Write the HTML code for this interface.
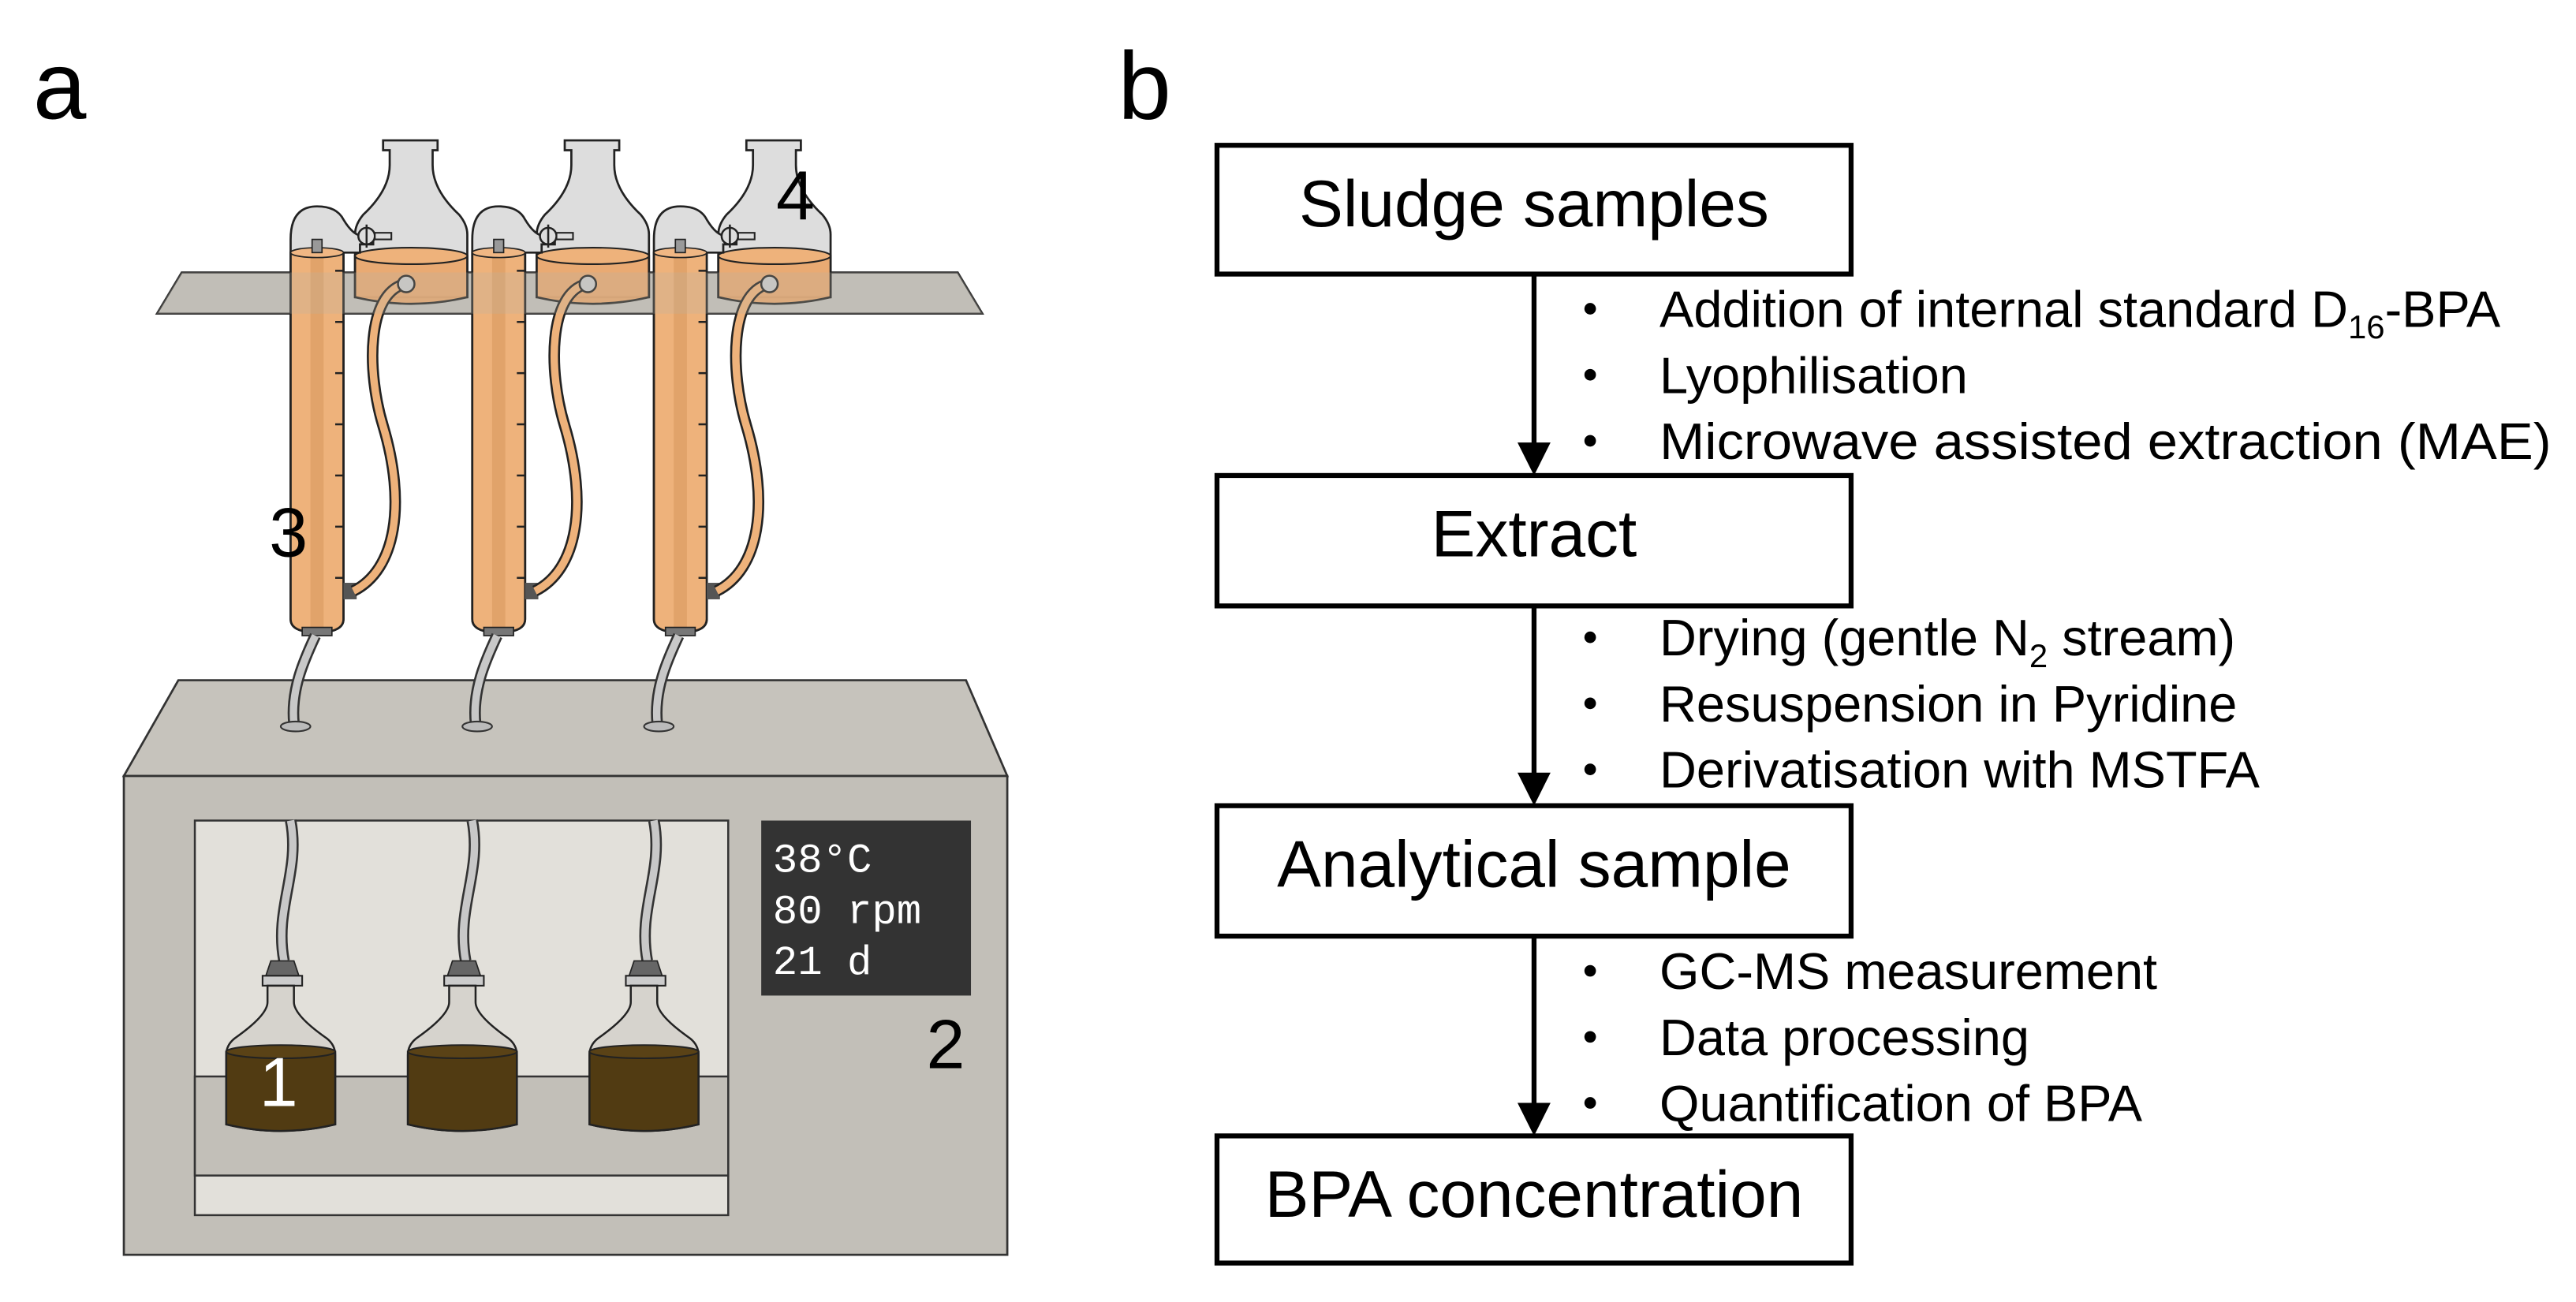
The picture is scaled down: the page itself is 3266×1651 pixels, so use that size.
<!DOCTYPE html>
<html><head><meta charset="utf-8"><style>html,body{margin:0;padding:0;background:#fff}svg{display:block}</style></head>
<body>
<svg xmlns="http://www.w3.org/2000/svg" width="3266" height="1651" viewBox="0 0 1560 788.6" font-family="Liberation Sans, Arial, sans-serif">
<defs>
<g id="col">
  <path d="M232,85 h33 v6 h-3 v9 q0,15 16,30 q5,6 5,12 v38 h-68 v-38 q0,-6 5,-12 q16,-15 16,-30 v-9 h-4 z" fill="#dddddd" stroke="#222" stroke-width="1.3"/>
  <path d="M215,155 h68 v25 q-34,8 -68,0 z" fill="#eaa86e" stroke="#222" stroke-width="1.3" opacity="0.95"/>
  <ellipse cx="249" cy="155" rx="34" ry="5" fill="#eeb27b" stroke="#222" stroke-width="1"/>
  <path d="M176,375 v-230 q0,-20 16,-20 q12,0 16,8 q6,10 12,10 h6 v5 h-8 v5 h-10 v222 q0,8 -16,8 q-16,0 -16,-8 z" fill="#dddddd" stroke="#222" stroke-width="1.3"/>
  <path d="M176,153 h32 v222 q0,8 -16,8 q-16,0 -16,-8 z" fill="#eeb27b" stroke="#222" stroke-width="1.3"/>
  <rect x="188" y="153" width="8" height="228" fill="#d9995f" opacity="0.6"/>
  <ellipse cx="192" cy="153" rx="16" ry="3" fill="#f0b784" stroke="#222" stroke-width="0.8"/>
  <rect x="189" y="145" width="6" height="8" fill="#999" stroke="#222" stroke-width="0.8"/>
  <g stroke="#222" stroke-width="1.2">
    <line x1="203" y1="164" x2="208" y2="164"/><line x1="203" y1="195" x2="208" y2="195"/><line x1="203" y1="226" x2="208" y2="226"/>
    <line x1="203" y1="257" x2="208" y2="257"/><line x1="203" y1="288" x2="208" y2="288"/><line x1="203" y1="319" x2="208" y2="319"/><line x1="203" y1="350" x2="208" y2="350"/>
  </g>
  <circle cx="222" cy="143" r="5" fill="#ddd" stroke="#222" stroke-width="1.2"/>
  <line x1="222" y1="136" x2="222" y2="150" stroke="#222" stroke-width="1.2"/>
  <rect x="227" y="141" width="10" height="4" fill="#ddd" stroke="#222" stroke-width="1"/>
  <rect x="183" y="380" width="18" height="5" fill="#777" stroke="#222" stroke-width="0.8"/>
  <rect x="208" y="353" width="8" height="10" fill="#555"/>
  <path d="M245,172 C222,178 222,225 232,258 C246,305 240,345 214,358" fill="none" stroke="#222" stroke-width="7"/>
  <path d="M245,172 C222,178 222,225 232,258 C246,305 240,345 214,358" fill="none" stroke="#eeb27b" stroke-width="4.5"/>
  <circle cx="246" cy="172" r="5" fill="#ccc" stroke="#222" stroke-width="1.2"/>
  <path d="M191,385 C184,400 176,418 178,438" fill="none" stroke="#333" stroke-width="7"/>
  <path d="M191,385 C184,400 176,418 178,438" fill="none" stroke="#c8c8c8" stroke-width="4.5"/>
  <ellipse cx="179" cy="440" rx="9" ry="3" fill="#bbb" stroke="#333" stroke-width="1"/>
</g>
<g id="lb">
  <path d="M172,582 C166,550 182,528 176,497" fill="none" stroke="#333" stroke-width="7"/>
  <path d="M172,582 C166,550 182,528 176,497" fill="none" stroke="#c8c8c8" stroke-width="4.5"/>
  <path d="M164,582 h14 l3,9 h-20 z" fill="#666" stroke="#222" stroke-width="0.8"/>
  <rect x="159" y="591" width="24" height="6" fill="#ccc" stroke="#222" stroke-width="1"/>
  <path d="M162,597 v10 q0,8 -20,22 q-5,4 -5,10 v42 q33,8 66,0 v-42 q0,-6 -5,-10 q-20,-14 -20,-22 v-10 z" fill="#d6d3cd" stroke="#222" stroke-width="1.2"/>
  <path d="M137,637 h66 v44 q-33,8 -66,0 z" fill="#513b12" stroke="#222" stroke-width="1.2"/>
  <ellipse cx="170" cy="637" rx="33" ry="4" fill="#5a4216" stroke="#222" stroke-width="1"/>
</g>
</defs>
<text x="20" y="72" font-size="58">a</text>
<text x="677" y="72" font-size="58">b</text>
<path d="M75,470 L108,412 L585,412 L610,470 Z" fill="#c6c3bc" stroke="#333" stroke-width="1.3"/>
<rect x="75" y="470" width="535" height="290" fill="#c2bfb8" stroke="#333" stroke-width="1.3"/>
<rect x="118" y="497" width="323" height="239" fill="#e2e0da" stroke="#333" stroke-width="1.2"/>
<rect x="118" y="652" width="323" height="60" fill="#c2bfb8" stroke="#333" stroke-width="1.2"/>
<rect x="461" y="497" width="127" height="106" fill="#333333"/>
<text font-family="Liberation Mono, DejaVu Sans Mono, monospace" font-size="25" fill="#fff"><tspan x="468" y="528">38°C</tspan><tspan x="468" y="559">80 rpm</tspan><tspan x="468" y="590">21 d</tspan></text>
<text x="561" y="647" font-size="42">2</text>
<use href="#lb"/><use href="#lb" transform="translate(110,0)"/><use href="#lb" transform="translate(220,0)"/>
<text x="157" y="670" font-size="42" fill="#fff">1</text>
<path d="M110,165 L580,165 L595,190 L95,190 Z" fill="#c4c2bc" stroke="#333" stroke-width="1.2"/>
<use href="#col"/><use href="#col" transform="translate(110,0)"/><use href="#col" transform="translate(220,0)"/>
<path d="M110,165 L580,165 L595,190 L95,190 Z" fill="#b8b4a8" opacity="0.25"/>
<text x="163" y="337" font-size="42">3</text>
<text x="470" y="133" font-size="42">4</text>
<g fill="#fff" stroke="#000" stroke-width="3">
<rect x="737" y="88" width="384" height="78"/>
<rect x="737" y="288" width="384" height="79"/>
<rect x="737" y="488" width="384" height="79"/>
<rect x="737" y="688" width="384" height="77"/>
</g>
<g font-size="40" text-anchor="middle">
<text x="929" y="137">Sludge samples</text>
<text x="929" y="337">Extract</text>
<text x="929" y="537">Analytical sample</text>
<text x="929" y="737">BPA concentration</text>
</g>
<g stroke="#000" stroke-width="3">
<line x1="929" y1="166" x2="929" y2="272"/><line x1="929" y1="367" x2="929" y2="472"/><line x1="929" y1="567" x2="929" y2="672"/>
</g>
<g fill="#000">
<path d="M919,268 L939,268 L929,288 Z"/><path d="M919,468 L939,468 L929,488 Z"/><path d="M919,668 L939,668 L929,688 Z"/>
</g>
<g fill="#000">
<circle cx="963" cy="187" r="3.5"/><circle cx="963" cy="227" r="3.5"/><circle cx="963" cy="267" r="3.5"/>
<circle cx="963" cy="386" r="3.5"/><circle cx="963" cy="426" r="3.5"/><circle cx="963" cy="466" r="3.5"/>
<circle cx="963" cy="588" r="3.5"/><circle cx="963" cy="628" r="3.5"/><circle cx="963" cy="668" r="3.5"/>
</g>
<g font-size="31">
<text x="1005" y="198">Addition of internal standard D<tspan font-size="20" dy="7">16</tspan><tspan dy="-7">-BPA</tspan></text>
<text x="1005" y="238">Lyophilisation</text>
<text x="1005" y="278" textLength="540" lengthAdjust="spacingAndGlyphs">Microwave assisted extraction (MAE)</text>
<text x="1005" y="397">Drying (gentle N<tspan font-size="20" dy="7">2</tspan><tspan dy="-7"> stream)</tspan></text>
<text x="1005" y="437">Resuspension in Pyridine</text>
<text x="1005" y="477">Derivatisation with MSTFA</text>
<text x="1005" y="599">GC-MS measurement</text>
<text x="1005" y="639">Data processing</text>
<text x="1005" y="679">Quantification of BPA</text>
</g>
</svg>
</body></html>
